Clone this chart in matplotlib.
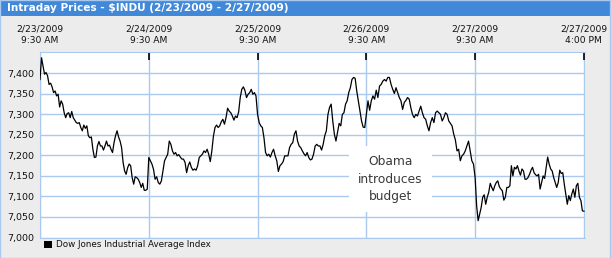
import numpy as np
import matplotlib
matplotlib.use("Agg")
import matplotlib.pyplot as plt
from matplotlib.patches import Rectangle

# intraday closes, one list per session (9:30 AM - 4:00 PM)
day1 = [7385, 7438, 7418, 7398, 7402, 7394, 7373, 7376, 7367, 7353, 7357, 7345,
        7349, 7318, 7333, 7325, 7304, 7292, 7302, 7304, 7292, 7307, 7292, 7286,
        7280, 7278, 7280, 7268, 7260, 7274, 7266, 7272, 7248, 7243, 7245, 7215,
        7195, 7196, 7223, 7234, 7223, 7223, 7213, 7223, 7235, 7223, 7225, 7215,
        7207, 7231, 7248, 7260, 7245, 7235, 7219, 7183, 7162, 7154, 7170, 7179,
        7175, 7146, 7130, 7148, 7146, 7142, 7134, 7122, 7132, 7115, 7115, 7118]
day2 = [7195, 7187, 7179, 7166, 7142, 7148, 7134, 7130, 7138, 7162, 7187, 7195,
        7203, 7235, 7227, 7211, 7203, 7207, 7199, 7202, 7196, 7191, 7191, 7183,
        7158, 7175, 7184, 7171, 7164, 7167, 7164, 7175, 7195, 7199, 7203, 7211,
        7207, 7215, 7203, 7185, 7211, 7247, 7268, 7274, 7268, 7272, 7282, 7288,
        7276, 7292, 7315, 7308, 7304, 7296, 7286, 7296, 7292, 7306, 7341, 7361,
        7367, 7358, 7341, 7349, 7353, 7361, 7349, 7353, 7345]
day3 = [7300, 7280, 7272, 7268, 7243, 7207, 7199, 7203, 7196, 7207, 7215, 7199,
        7187, 7161, 7175, 7179, 7185, 7199, 7199, 7199, 7219, 7227, 7231, 7252,
        7260, 7235, 7223, 7219, 7211, 7204, 7199, 7207, 7195, 7189, 7191, 7203,
        7223, 7227, 7223, 7223, 7213, 7227, 7248, 7260, 7300, 7317, 7325, 7284,
        7252, 7235, 7256, 7278, 7272, 7300, 7304, 7325, 7333, 7353, 7365, 7385,
        7390, 7388, 7357, 7333, 7308, 7284, 7269, 7268]
day4 = [7300, 7333, 7310, 7333, 7345, 7337, 7359, 7341, 7369, 7373, 7381, 7385,
        7381, 7390, 7390, 7373, 7361, 7351, 7365, 7353, 7341, 7333, 7312, 7329,
        7334, 7341, 7337, 7316, 7300, 7292, 7300, 7296, 7308, 7320, 7304, 7292,
        7288, 7272, 7260, 7280, 7292, 7280, 7304, 7308, 7304, 7300, 7284, 7292,
        7304, 7300, 7284, 7278, 7272, 7252, 7238, 7211, 7215, 7187, 7199, 7203,
        7211, 7223, 7235, 7211, 7187, 7179]
day5 = [7146, 7077, 7041, 7057, 7073, 7098, 7104, 7081, 7098, 7110, 7132, 7122,
        7114, 7126, 7134, 7138, 7124, 7118, 7114, 7091, 7098, 7122, 7122, 7126,
        7175, 7150, 7171, 7167, 7175, 7162, 7152, 7167, 7162, 7142, 7142, 7146,
        7154, 7164, 7171, 7158, 7153, 7150, 7154, 7118, 7134, 7150, 7144, 7171,
        7196, 7179, 7167, 7162, 7146, 7134, 7122, 7134, 7164, 7156, 7158, 7130,
        7106, 7081, 7102, 7090, 7106, 7118, 7098, 7126, 7132, 7098, 7090, 7065, 7064]
days = [day1, day2, day3, day4, day5]

x_labels = ["2/23/2009\n9:30 AM", "2/24/2009\n9:30 AM", "2/25/2009\n9:30 AM",
            "2/26/2009\n9:30 AM", "2/27/2009\n9:30 AM", "2/27/2009\n4:00 PM"]
y_ticks = [7000, 7050, 7100, 7150, 7200, 7250, 7300, 7350, 7400]

# session index + fraction of the session elapsed
xs, ys = [], []
for i, d in enumerate(days):
    xs.extend(i + np.linspace(0, 1, len(d), endpoint=(i == len(days) - 1)))
    ys.extend(d)

grid_c = "#a9c9ef"
bg = "#ececec"

fig = plt.figure(figsize=(6.11, 2.58), dpi=100, facecolor=bg)
ax = fig.add_axes([40 / 611, 1 - 237.5 / 258, 545 / 611, 185.5 / 258])
ax.set_facecolor("white")

ax.plot(xs, ys, color="black", lw=0.9, zorder=3)
ax.set_xlim(0, 5.01)
ax.set_ylim(7000, 7452)

ax.set_yticks(y_ticks)
ax.set_yticklabels([f"{v:,}" for v in y_ticks], fontsize=6.8, color="#111111")
ax.tick_params(axis="y", length=0, pad=4)

ax.xaxis.tick_top()
ax.set_xticks(range(6))
ax.set_xticklabels(x_labels, fontsize=6.6, color="#111111", linespacing=1.4)
ax.tick_params(axis="x", direction="in", length=6, width=1.2, color="black", pad=5)
ax.xaxis.get_major_ticks()[0].tick2line.set_visible(False)

ax.grid(True, color=grid_c, lw=1)
for s in ["top", "left", "bottom"]:
    ax.spines[s].set_color(grid_c)
ax.spines["right"].set_visible(False)

ax.text(3.22, 7142, "Obama\nintroduces\nbudget", ha="center", va="center",
        fontsize=8.8, color="#3a3a3a", linespacing=1.45, zorder=4,
        bbox=dict(boxstyle="square,pad=0.75", fc="white", ec="none"))

# title band
fig.patches.append(Rectangle((0, 1 - 16 / 258), 1, 16 / 258, transform=fig.transFigure,
                             fc="#4188d8", ec="none", zorder=0))
fig.text(7 / 611, 1 - 8 / 258, "Intraday Prices - $INDU (2/23/2009 - 2/27/2009)",
         color="white", fontsize=7.6, fontweight="bold", va="center", ha="left")

# outer frame
fig.patches.append(Rectangle((0, 0.5 / 258), 609.5 / 611, 1, transform=fig.transFigure,
                             fc="none", ec=grid_c, lw=1, zorder=1))

# legend
fig.patches.append(Rectangle((44 / 611, 1 - 248 / 258), 8 / 611, 7 / 258,
                             transform=fig.transFigure, fc="black", ec="none"))
fig.text(56 / 611, 1 - 244.5 / 258, "Dow Jones Industrial Average Index",
         fontsize=6.3, color="#111111", va="center", ha="left")

fig.savefig("out.png", dpi=100, facecolor=bg)
